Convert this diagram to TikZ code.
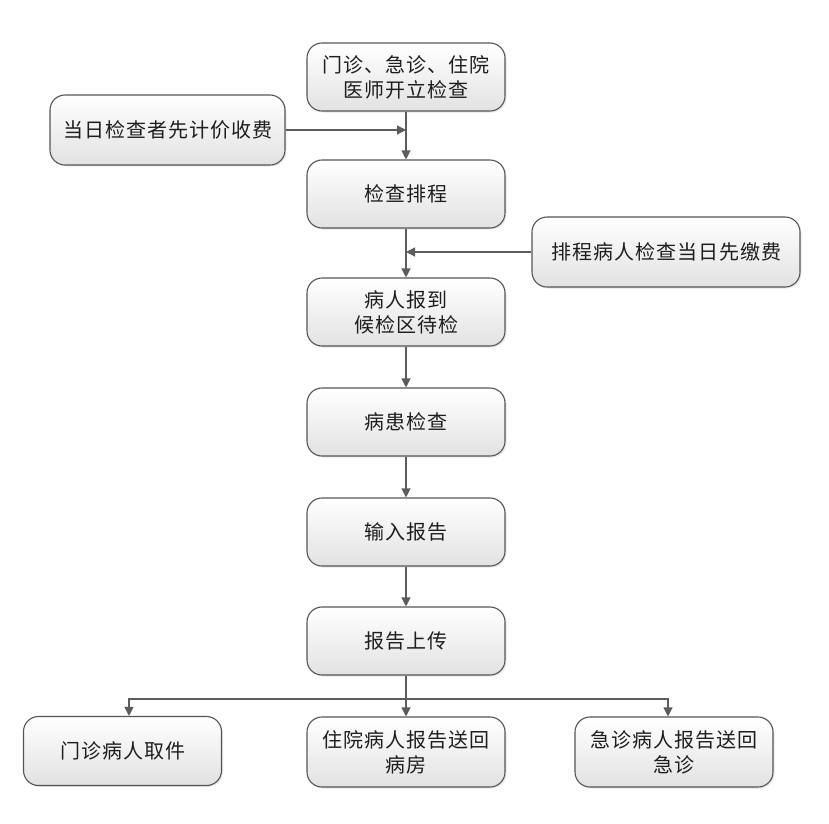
\documentclass[tikz,border=0pt]{standalone}
\usepackage{fontspec}
\newfontfamily\cjk[LetterSpace=5]{Noto Sans CJK SC}
\usetikzlibrary{arrows.meta, positioning, shadows}
\definecolor{LineGray}{HTML}{5C5C5C}
\definecolor{EdgeGray}{HTML}{555555}
\definecolor{BoxGray}{HTML}{E2E2E2}
\definecolor{InkBlack}{HTML}{1E1E1E}

\begin{document}
\begin{tikzpicture}[x=1pt, y=-1pt,
    box/.style={draw=EdgeGray, line width=1.1pt, rounded corners=15pt,
      top color=white, bottom color=BoxGray,
      minimum width=198pt, minimum height=68pt, inner sep=2pt, align=center,
      font=\cjk\fontsize{20}{25}\selectfont, text=InkBlack,
      drop shadow={opacity=0.18, shadow xshift=1.5pt, shadow yshift=-1.5pt}},
    link/.style={draw=LineGray, line width=1.1pt, -{Triangle[length=9pt, width=9pt]}}]
  \path[use as bounding box, fill=white] (0,0) rectangle (829,823);

  \node[box] (order) at (406,77) {门诊、急诊、住院\\医师开立检查};
  \node[box, minimum width=235pt, minimum height=70pt] (prepay) at (167.5,130) {当日检查者先计价收费};
  \node[box] (sched) at (406,194) {检查排程};
  \node[box, minimum width=268pt, minimum height=70pt] (daypay) at (666,252) {排程病人检查当日先缴费};
  \node[box] (checkin) at (406,312) {病人报到\\候检区待检};
  \node[box] (exam) at (406,422) {病患检查};
  \node[box] (input) at (406,532) {输入报告};
  \node[box] (upload) at (406,641) {报告上传};
  \node[box, minimum height=69pt] (outpt) at (122.5,751) {门诊病人取件};
  \node[box, minimum height=70pt] (inpt) at (406,752) {住院病人报告送回\\病房};
  \node[box, minimum height=70pt] (emerg) at (674,752) {急诊病人报告送回\\急诊};
  \coordinate (split) at (406,699);

  \draw[link] (order) -- (sched);
  \draw[link] (prepay) -- (prepay -| order);
  \draw[link] (sched) -- (checkin);
  \draw[link] (daypay) -- (daypay -| sched);
  \draw[link] (checkin) -- (exam);
  \draw[link] (exam) -- (input);
  \draw[link] (input) -- (upload);
  \draw[link] (upload) -- (inpt);
  \draw[link] (split) -| ([xshift=6.5pt]outpt.north);
  \draw[link] (split) -| ([xshift=-6pt]emerg.north);
\end{tikzpicture}
\end{document}
